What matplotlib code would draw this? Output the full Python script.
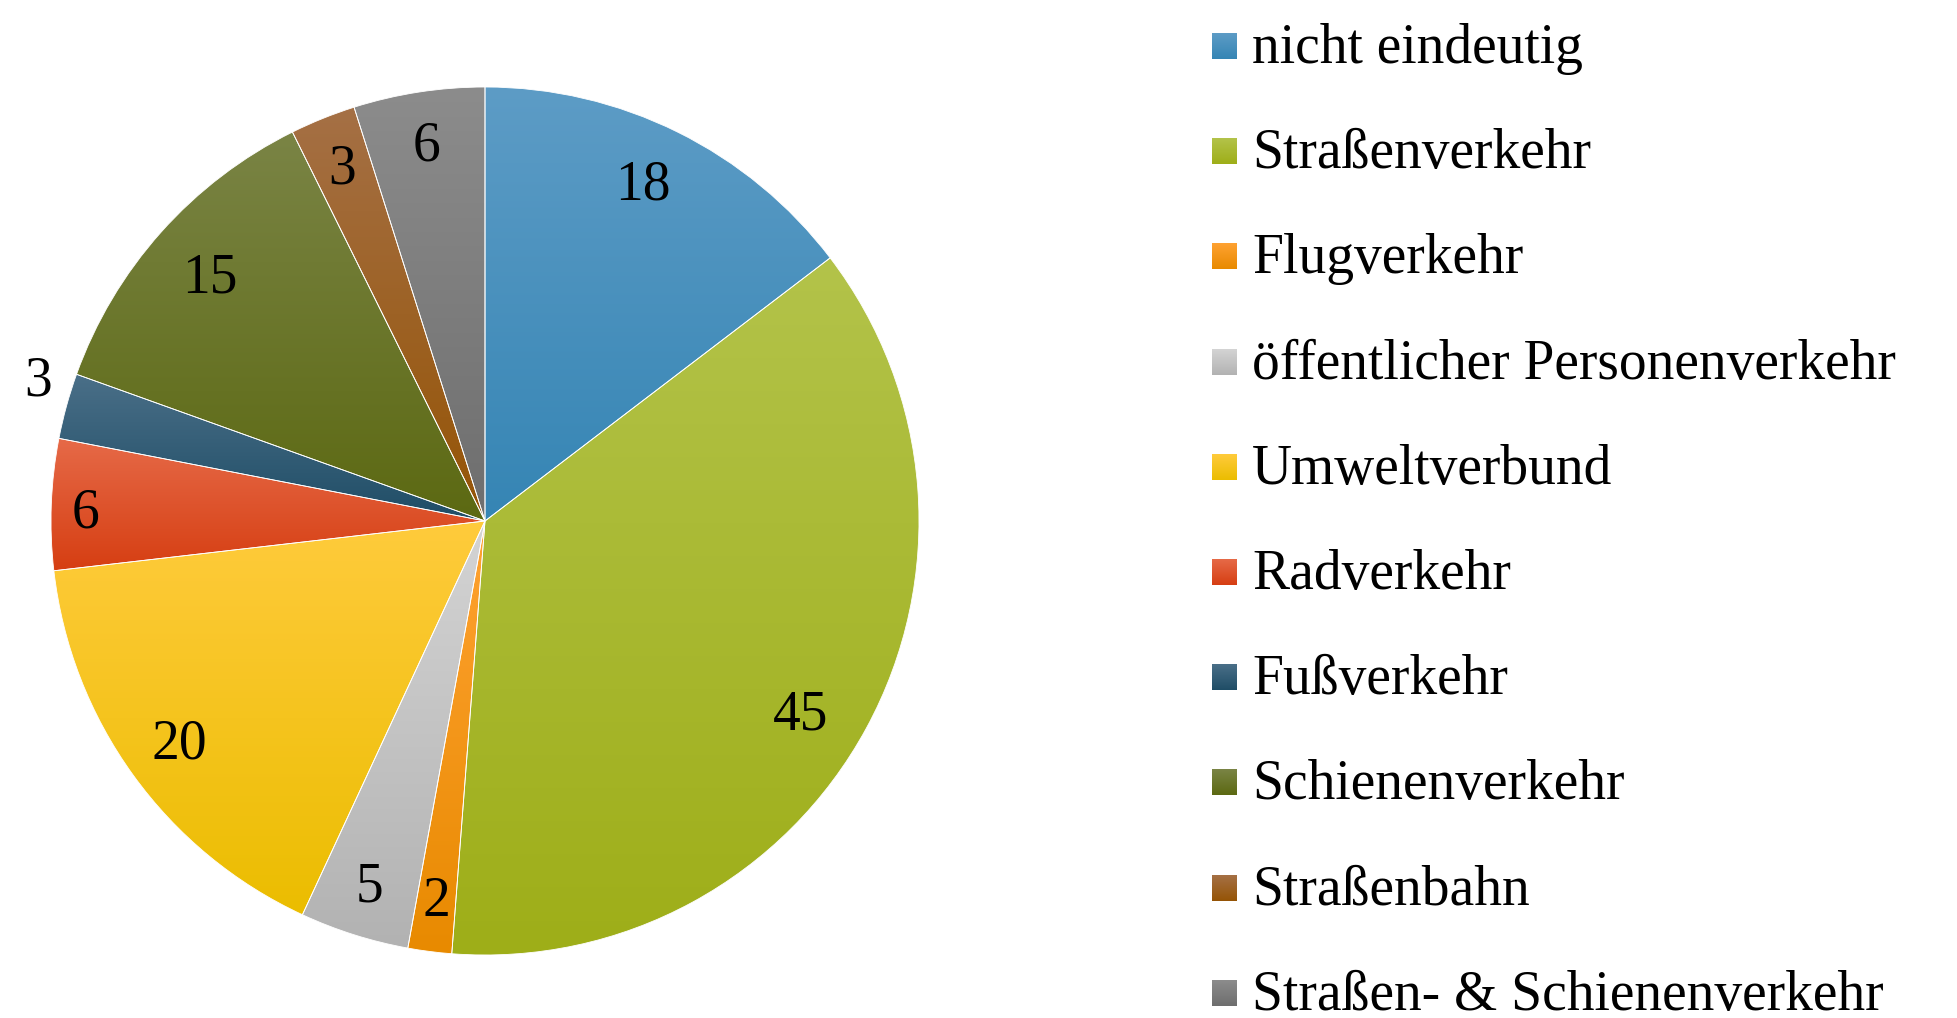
import numpy as np
import matplotlib
matplotlib.use("Agg")
import matplotlib.pyplot as plt
from matplotlib.colors import to_rgb

# data
categories = ["nicht eindeutig", "Straßenverkehr", "Flugverkehr",
              "öffentlicher Personenverkehr", "Umweltverbund", "Radverkehr",
              "Fußverkehr", "Schienenverkehr", "Straßenbahn",
              "Straßen- & Schienenverkehr"]
values = [18, 45, 2, 5, 20, 6, 3, 15, 3, 6]

# gradient colours (top, bottom) per slice
top_colors = ["#5D9CC6", "#B3C34A", "#FFA232", "#D4D4D4", "#FFCB3C",
              "#E66A48", "#4A6F88", "#7A8445", "#A57045", "#8C8C8C"]
bottom_colors = ["#3585B4", "#9EAE18", "#E88A00", "#B2B2B2", "#EBBD00",
                 "#D63E12", "#1F4D66", "#5C6912", "#955405", "#6E6E6E"]
# label placement (radius fraction, angle nudge in degrees)
label_dist = [0.86, 0.85, 0.88, 0.88, 0.87, 0.92, 1.08, 0.85, 0.88, 0.88]
label_nudge = [1.4, -2.8, 0, 0, 0, 0.8, -2.3, 0, 0, 0]

FONT = "Liberation Serif"
FS = 40
W, H = 1957, 1018


def gradient(c_top, c_bot, n=256):
    t = np.linspace(0, 1, n)[:, None, None]
    a = np.array(to_rgb(c_top))[None, None, :]
    b = np.array(to_rgb(c_bot))[None, None, :]
    return a * (1 - t) + b * t


fig = plt.figure(figsize=(W / 100, H / 100), dpi=100)

# pie axes: centre ~ (485, 521) px, radius ~434 px
cx, cy, r = 485, 521, 434
ax = fig.add_axes([(cx - r) / W, (H - cy - r) / H, 2 * r / W, 2 * r / H])
wedges, _ = ax.pie(values, colors=bottom_colors, startangle=90,
                   counterclock=False, radius=1,
                   wedgeprops=dict(edgecolor="white", linewidth=0.6))

for i, w in enumerate(wedges):
    bb = w.get_path().get_extents()
    im = ax.imshow(gradient(top_colors[i], bottom_colors[i]),
                   extent=(bb.x0, bb.x1, bb.y0, bb.y1), origin="upper",
                   aspect="auto", interpolation="bilinear", zorder=w.get_zorder())
    im.set_clip_path(w)
    w.set_facecolor("none")
    w.set_zorder(w.get_zorder() + 0.1)

    ang = np.deg2rad((w.theta1 + w.theta2) / 2 + label_nudge[i])
    d = label_dist[i]
    ax.text(d * np.cos(ang), d * np.sin(ang) + 0.008, str(values[i]),
            ha="center", va="center_baseline", fontsize=FS, family=FONT, zorder=5)

ax.set_xlim(-1, 1)
ax.set_ylim(-1, 1)
ax.set_aspect("equal")
ax.axis("off")

# legend drawn on an overlay in pixel units
lax = fig.add_axes([0, 0, 1, 1], zorder=-1)
lax.set_xlim(0, W)
lax.set_ylim(0, H)
lax.axis("off")

y0, step = 46, 105.2
for i, lab in enumerate(categories):
    yc = H - (y0 + step * i)
    lax.imshow(gradient(top_colors[i], bottom_colors[i]),
               extent=(1212, 1237, yc - 13, yc + 13), origin="upper",
               aspect="auto", interpolation="bilinear")
    lax.text(1252, yc - 17, lab, ha="left", va="baseline",
             fontsize=FS, family=FONT)
lax.set_xlim(0, W)
lax.set_ylim(0, H)

fig.savefig("out.png", dpi=100, facecolor="white")
